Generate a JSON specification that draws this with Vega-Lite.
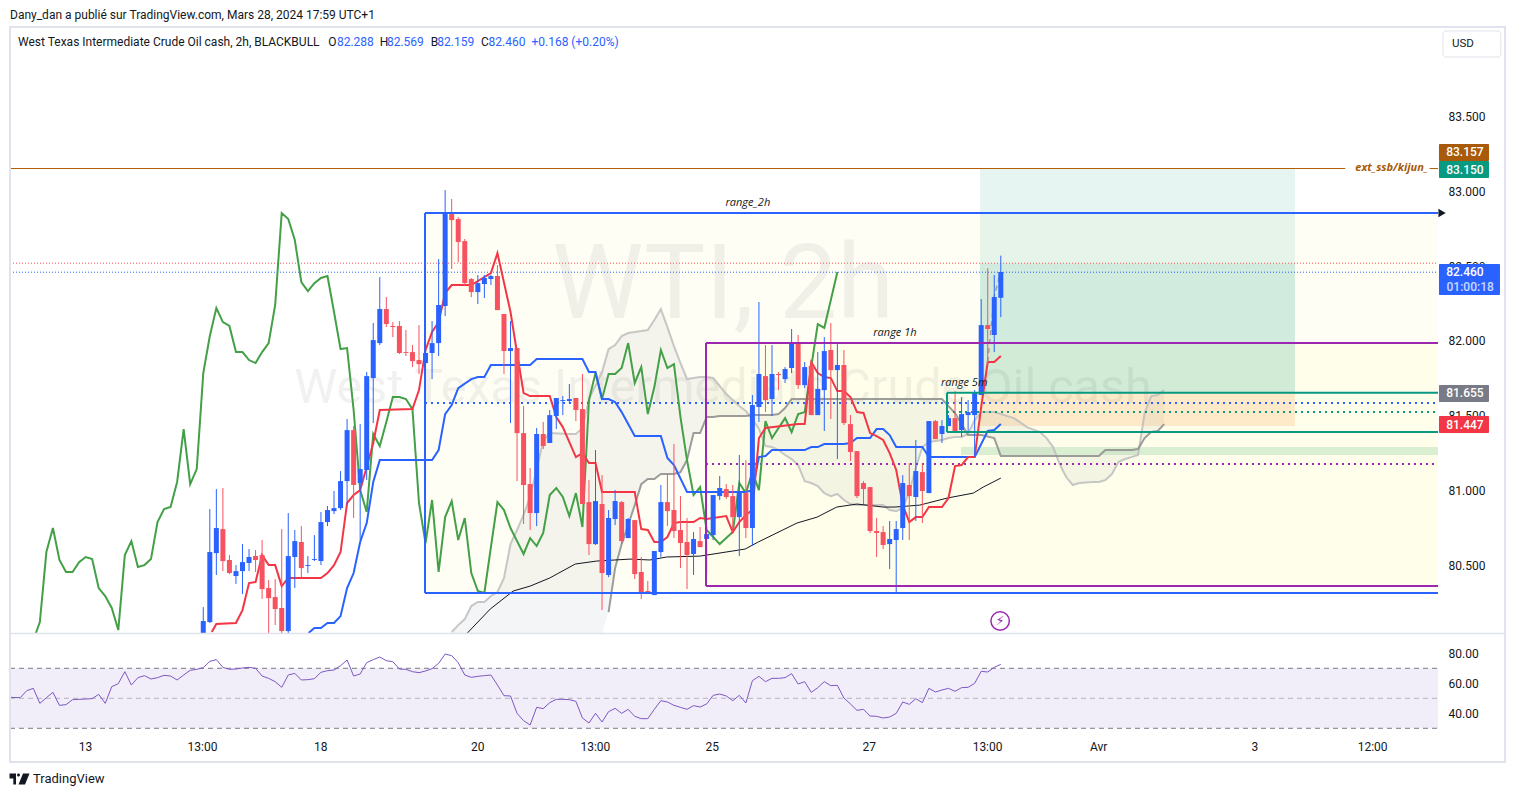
{"$schema":"https://vega.github.io/schema/vega-lite/v6.json","width":1515,"height":797,"padding":0,"autosize":{"type":"none"},"background":"#ffffff","config":{"view":{"stroke":null},"text":{"font":"Roboto"},"axis":{"labelFont":"Roboto"}},
"datasets":{
"candles":[
{"i":29,"o":80.006,"h":80.226,"l":80.0,"c":80.133},{"i":30,"o":80.126,"h":80.88,"l":80.12,"c":80.593},{"i":31,"o":80.586,"h":81.013,"l":80.44,"c":80.753},{"i":32,"o":80.746,"h":81.02,"l":80.466,"c":80.533},{"i":33,"o":80.54,"h":80.573,"l":80.446,"c":80.453},{"i":34,"o":80.433,"h":80.506,"l":80.38,"c":80.466},{"i":35,"o":80.466,"h":80.646,"l":80.313,"c":80.526},{"i":36,"o":80.52,"h":80.613,"l":80.466,"c":80.56},{"i":37,"o":80.566,"h":80.606,"l":80.46,"c":80.54},{"i":38,"o":80.573,"h":80.673,"l":80.28,"c":80.346},{"i":39,"o":80.353,"h":80.406,"l":80.006,"c":80.286},{"i":40,"o":80.293,"h":80.413,"l":80.106,"c":80.213},{"i":41,"o":80.22,"h":80.746,"l":80.0,"c":80.066},{"i":42,"o":80.066,"h":80.853,"l":80.0,"c":80.566},{"i":43,"o":80.56,"h":80.74,"l":80.353,"c":80.666},{"i":44,"o":80.66,"h":80.766,"l":80.426,"c":80.486},{"i":45,"o":80.5,"h":80.566,"l":80.453,"c":80.506},{"i":46,"o":80.54,"h":80.706,"l":80.533,"c":80.546},{"i":47,"o":80.533,"h":80.86,"l":80.506,"c":80.793},{"i":48,"o":80.793,"h":80.9,"l":80.766,"c":80.873},{"i":49,"o":80.866,"h":81.0,"l":80.846,"c":80.886},{"i":50,"o":80.886,"h":81.133,"l":80.873,"c":81.066},{"i":51,"o":81.066,"h":81.48,"l":80.906,"c":81.406},{"i":52,"o":81.406,"h":81.433,"l":80.82,"c":81.04},{"i":53,"o":81.053,"h":81.446,"l":80.673,"c":81.146},{"i":54,"o":81.14,"h":81.793,"l":81.073,"c":81.766},{"i":55,"o":81.753,"h":82.12,"l":81.453,"c":82.006},{"i":56,"o":81.986,"h":82.426,"l":81.973,"c":82.213},{"i":57,"o":82.213,"h":82.293,"l":82.093,"c":82.113},{"i":58,"o":82.1,"h":82.126,"l":82.026,"c":82.093},{"i":59,"o":82.1,"h":82.133,"l":81.913,"c":81.92},{"i":60,"o":81.926,"h":82.073,"l":81.9,"c":81.92},{"i":61,"o":81.926,"h":81.973,"l":81.826,"c":81.866},{"i":62,"o":81.873,"h":82.106,"l":81.78,"c":81.846},{"i":63,"o":81.853,"h":81.94,"l":81.606,"c":81.92},{"i":64,"o":81.92,"h":82.133,"l":81.746,"c":81.986},{"i":65,"o":81.986,"h":82.546,"l":81.9,"c":82.24},{"i":66,"o":82.233,"h":83.006,"l":82.166,"c":82.86},{"i":67,"o":82.846,"h":82.946,"l":82.48,"c":82.806},{"i":68,"o":82.813,"h":82.826,"l":82.526,"c":82.66},{"i":69,"o":82.666,"h":82.68,"l":82.366,"c":82.386},{"i":70,"o":82.413,"h":82.42,"l":82.293,"c":82.326},{"i":71,"o":82.326,"h":82.44,"l":82.246,"c":82.386},{"i":72,"o":82.38,"h":82.44,"l":82.286,"c":82.42},{"i":73,"o":82.413,"h":82.44,"l":82.373,"c":82.433},{"i":74,"o":82.433,"h":82.506,"l":82.206,"c":82.206},{"i":75,"o":82.18,"h":82.18,"l":81.78,"c":81.933},{"i":76,"o":81.933,"h":82.133,"l":81.453,"c":81.953},{"i":77,"o":81.953,"h":81.953,"l":81.066,"c":81.386},{"i":78,"o":81.386,"h":81.566,"l":80.78,"c":81.04},{"i":79,"o":81.046,"h":81.153,"l":80.74,"c":80.853},{"i":80,"o":80.853,"h":81.42,"l":80.766,"c":81.38},{"i":81,"o":81.38,"h":81.46,"l":81.28,"c":81.3},{"i":82,"o":81.32,"h":81.54,"l":81.32,"c":81.506},{"i":83,"o":81.5,"h":81.62,"l":81.413,"c":81.62},{"i":84,"o":81.6,"h":81.633,"l":81.506,"c":81.606},{"i":85,"o":81.6,"h":81.713,"l":81.586,"c":81.613},{"i":86,"o":81.62,"h":81.62,"l":81.466,"c":81.54},{"i":87,"o":81.546,"h":81.78,"l":80.913,"c":80.913},{"i":88,"o":80.926,"h":81.073,"l":80.573,"c":80.646},{"i":89,"o":80.646,"h":81.273,"l":80.64,"c":80.933},{"i":90,"o":80.913,"h":81.106,"l":80.206,"c":80.453},{"i":91,"o":80.44,"h":80.873,"l":80.426,"c":80.82},{"i":92,"o":80.813,"h":81.006,"l":80.773,"c":80.933},{"i":93,"o":80.926,"h":80.933,"l":80.646,"c":80.666},{"i":94,"o":80.686,"h":80.82,"l":80.686,"c":80.813},{"i":95,"o":80.806,"h":80.806,"l":80.413,"c":80.446},{"i":96,"o":80.46,"h":80.56,"l":80.28,"c":80.326},{"i":97,"o":80.333,"h":80.4,"l":80.313,"c":80.313},{"i":98,"o":80.306,"h":80.6,"l":80.306,"c":80.6},{"i":99,"o":80.593,"h":81.04,"l":80.56,"c":80.926},{"i":100,"o":80.926,"h":81.113,"l":80.766,"c":80.866},{"i":101,"o":80.873,"h":81.313,"l":80.686,"c":80.733},{"i":102,"o":80.74,"h":80.966,"l":80.486,"c":80.653},{"i":103,"o":80.66,"h":80.82,"l":80.346,"c":80.573},{"i":104,"o":80.58,"h":80.726,"l":80.44,"c":80.68},{"i":105,"o":80.666,"h":80.76,"l":80.626,"c":80.626},{"i":106,"o":80.68,"h":80.74,"l":80.44,"c":80.713},{"i":107,"o":80.706,"h":80.973,"l":80.673,"c":80.973},{"i":108,"o":80.966,"h":81.1,"l":80.94,"c":81.02},{"i":109,"o":81.013,"h":81.046,"l":80.946,"c":80.96},{"i":110,"o":80.966,"h":81.04,"l":80.726,"c":80.826},{"i":111,"o":80.826,"h":81.24,"l":80.566,"c":80.993},{"i":112,"o":80.986,"h":81.206,"l":80.686,"c":80.753},{"i":113,"o":80.753,"h":81.64,"l":80.633,"c":81.573},{"i":114,"o":81.56,"h":82.26,"l":81.46,"c":81.78},{"i":115,"o":81.766,"h":81.973,"l":81.526,"c":81.606},{"i":116,"o":81.613,"h":81.973,"l":81.5,"c":81.78},{"i":117,"o":81.78,"h":81.793,"l":81.673,"c":81.773},{"i":118,"o":81.746,"h":81.826,"l":81.72,"c":81.813},{"i":119,"o":81.82,"h":82.08,"l":81.786,"c":81.986},{"i":120,"o":81.986,"h":82.04,"l":81.68,"c":81.706},{"i":121,"o":81.706,"h":81.86,"l":81.686,"c":81.826},{"i":122,"o":81.833,"h":81.86,"l":81.506,"c":81.506},{"i":123,"o":81.506,"h":81.926,"l":81.506,"c":81.68},{"i":124,"o":81.673,"h":82.026,"l":81.4,"c":81.933},{"i":125,"o":81.94,"h":82.12,"l":81.48,"c":81.806},{"i":126,"o":81.806,"h":81.986,"l":81.213,"c":81.84},{"i":127,"o":81.84,"h":81.94,"l":81.44,"c":81.453},{"i":128,"o":81.446,"h":81.506,"l":81.2,"c":81.26},{"i":129,"o":81.266,"h":81.266,"l":80.953,"c":80.966},{"i":130,"o":81.053,"h":81.066,"l":80.913,"c":81.013},{"i":131,"o":81.026,"h":81.026,"l":80.72,"c":80.733},{"i":132,"o":80.733,"h":80.82,"l":80.56,"c":80.72},{"i":133,"o":80.726,"h":80.766,"l":80.613,"c":80.64},{"i":134,"o":80.646,"h":80.8,"l":80.48,"c":80.68},{"i":135,"o":80.673,"h":80.8,"l":80.326,"c":80.746},{"i":136,"o":80.753,"h":81.106,"l":80.673,"c":81.053},{"i":137,"o":81.04,"h":81.186,"l":80.673,"c":80.966},{"i":138,"o":80.96,"h":81.34,"l":80.8,"c":81.133},{"i":139,"o":81.126,"h":81.186,"l":80.786,"c":81.0},{"i":140,"o":80.986,"h":81.466,"l":80.986,"c":81.466},{"i":141,"o":81.466,"h":81.473,"l":81.346,"c":81.346},{"i":142,"o":81.38,"h":81.473,"l":81.32,"c":81.433},{"i":143,"o":81.433,"h":81.506,"l":81.433,"c":81.486},{"i":144,"o":81.486,"h":81.666,"l":81.393,"c":81.393},{"i":145,"o":81.406,"h":81.626,"l":81.36,"c":81.513},{"i":146,"o":81.506,"h":81.606,"l":81.393,"c":81.526},{"i":147,"o":81.506,"h":81.673,"l":81.226,"c":81.653},{"i":148,"o":81.64,"h":82.28,"l":81.64,"c":82.106},{"i":149,"o":82.106,"h":82.486,"l":81.84,"c":82.08},{"i":150,"o":82.04,"h":82.44,"l":81.926,"c":82.293},{"i":151,"o":82.288,"h":82.569,"l":82.159,"c":82.46}],
"green":[{"i":3.4,"p":80.053},{"i":4,"p":80.126},{"i":5,"p":80.593},{"i":6,"p":80.753},{"i":7,"p":80.54},{"i":8,"p":80.46},{"i":9,"p":80.46},{"i":10,"p":80.526},{"i":11,"p":80.56},{"i":12,"p":80.546},{"i":13,"p":80.353},{"i":14,"p":80.3},{"i":15,"p":80.22},{"i":16,"p":80.073},{"i":17,"p":80.573},{"i":18,"p":80.666},{"i":19,"p":80.493},{"i":20,"p":80.506},{"i":21,"p":80.546},{"i":22,"p":80.793},{"i":23,"p":80.88},{"i":24,"p":80.893},{"i":25,"p":81.06},{"i":26,"p":81.413},{"i":27,"p":81.046},{"i":28,"p":81.146},{"i":29,"p":81.786},{"i":30,"p":82.033},{"i":31,"p":82.22},{"i":32,"p":82.126},{"i":33,"p":82.1},{"i":34,"p":81.926},{"i":35,"p":81.926},{"i":36,"p":81.873},{"i":37,"p":81.853},{"i":38,"p":81.926},{"i":39,"p":81.986},{"i":40,"p":82.24},{"i":41,"p":82.853},{"i":42,"p":82.813},{"i":43,"p":82.673},{"i":44,"p":82.393},{"i":45,"p":82.333},{"i":46,"p":82.386},{"i":47,"p":82.42},{"i":48,"p":82.433},{"i":49,"p":82.193},{"i":50,"p":81.946},{"i":51,"p":81.953},{"i":52,"p":81.54},{"i":53,"p":81.006},{"i":54,"p":80.86},{"i":55,"p":81.38},{"i":56,"p":81.3},{"i":57,"p":81.46},{"i":58,"p":81.626},{"i":59,"p":81.626},{"i":60,"p":81.613},{"i":61,"p":81.546},{"i":62,"p":80.92},{"i":63,"p":80.653},{"i":64,"p":80.94},{"i":65,"p":80.46},{"i":66,"p":80.826},{"i":67,"p":80.933},{"i":68,"p":80.673},{"i":69,"p":80.82},{"i":70,"p":80.453},{"i":71,"p":80.333},{"i":72,"p":80.32},{"i":73,"p":80.626},{"i":74,"p":80.926},{"i":75,"p":80.873},{"i":76,"p":80.753},{"i":77,"p":80.666},{"i":78,"p":80.58},{"i":79,"p":80.686},{"i":80,"p":80.633},{"i":81,"p":80.72},{"i":82,"p":80.973},{"i":83,"p":81.02},{"i":84,"p":80.96},{"i":85,"p":80.833},{"i":86,"p":80.986},{"i":87,"p":80.76},{"i":88,"p":81.606},{"i":89,"p":81.786},{"i":90,"p":81.613},{"i":91,"p":81.78},{"i":92,"p":81.78},{"i":93,"p":81.82},{"i":94,"p":81.986},{"i":95,"p":81.72},{"i":96,"p":81.826},{"i":97,"p":81.513},{"i":98,"p":81.693},{"i":99,"p":81.94},{"i":100,"p":81.82},{"i":101,"p":81.846},{"i":102,"p":81.493},{"i":103,"p":81.206},{"i":104,"p":80.973},{"i":105,"p":81.026},{"i":106,"p":80.74},{"i":107,"p":80.693},{"i":108,"p":80.646},{"i":109,"p":80.686},{"i":110,"p":80.726},{"i":111,"p":81.053},{"i":112,"p":80.986},{"i":113,"p":81.126},{"i":114,"p":81.006},{"i":115,"p":81.466},{"i":116,"p":81.353},{"i":117,"p":81.42},{"i":118,"p":81.486},{"i":119,"p":81.393},{"i":120,"p":81.513},{"i":121,"p":81.526},{"i":122,"p":81.826},{"i":123,"p":82.113},{"i":124,"p":82.087},{"i":125,"p":82.273},{"i":126,"p":82.46}],
"red":[{"i":30.3,"p":80.06},{"i":31,"p":80.113},{"i":34,"p":80.12},{"i":35,"p":80.206},{"i":36,"p":80.386},{"i":37,"p":80.393},{"i":38,"p":80.573},{"i":39,"p":80.506},{"i":40,"p":80.506},{"i":41,"p":80.366},{"i":42,"p":80.42},{"i":47,"p":80.42},{"i":48,"p":80.453},{"i":49,"p":80.506},{"i":50,"p":80.593},{"i":51,"p":80.92},{"i":52,"p":80.973},{"i":53,"p":81.006},{"i":54,"p":81.16},{"i":55,"p":81.32},{"i":56,"p":81.54},{"i":61,"p":81.546},{"i":62,"p":81.673},{"i":63,"p":81.94},{"i":64,"p":82.06},{"i":65,"p":82.126},{"i":66,"p":82.32},{"i":67,"p":82.373},{"i":70,"p":82.373},{"i":73,"p":82.453},{"i":74,"p":82.586},{"i":76,"p":82.193},{"i":77,"p":81.92},{"i":78,"p":81.653},{"i":79,"p":81.633},{"i":82,"p":81.633},{"i":83,"p":81.493},{"i":84,"p":81.426},{"i":85,"p":81.326},{"i":86,"p":81.226},{"i":87,"p":81.253},{"i":88,"p":81.186},{"i":89,"p":81.186},{"i":90,"p":80.993},{"i":95,"p":80.993},{"i":96,"p":80.746},{"i":97,"p":80.74},{"i":98,"p":80.66},{"i":99,"p":80.66},{"i":100,"p":80.693},{"i":101,"p":80.786},{"i":102,"p":80.793},{"i":104,"p":80.793},{"i":105,"p":80.82},{"i":106,"p":80.813},{"i":109,"p":80.833},{"i":110,"p":80.726},{"i":111,"p":80.793},{"i":112,"p":80.84},{"i":113,"p":80.873},{"i":114,"p":81.353},{"i":115,"p":81.42},{"i":120,"p":81.446},{"i":121,"p":81.446},{"i":122,"p":81.86},{"i":123,"p":81.786},{"i":124,"p":81.76},{"i":125,"p":81.753},{"i":126,"p":81.666},{"i":127,"p":81.666},{"i":128,"p":81.626},{"i":129,"p":81.526},{"i":130,"p":81.52},{"i":131,"p":81.386},{"i":132,"p":81.366},{"i":133,"p":81.34},{"i":134,"p":81.253},{"i":135,"p":81.14},{"i":136,"p":80.906},{"i":137,"p":80.793},{"i":138,"p":80.826},{"i":139,"p":80.826},{"i":140,"p":80.893},{"i":142,"p":80.893},{"i":143,"p":80.953},{"i":144,"p":81.166},{"i":145,"p":81.173},{"i":146,"p":81.226},{"i":147,"p":81.226},{"i":148,"p":81.56},{"i":149,"p":81.86},{"i":150,"p":81.86},{"i":151,"p":81.9}],
"blue":[{"i":45.1,"p":80.053},{"i":46,"p":80.087},{"i":47,"p":80.087},{"i":48,"p":80.12},{"i":49,"p":80.12},{"i":50,"p":80.166},{"i":51,"p":80.353},{"i":52,"p":80.453},{"i":53,"p":80.66},{"i":54,"p":80.786},{"i":55,"p":81.06},{"i":56,"p":81.206},{"i":64,"p":81.206},{"i":65,"p":81.273},{"i":66,"p":81.513},{"i":67,"p":81.573},{"i":68,"p":81.686},{"i":70,"p":81.746},{"i":71,"p":81.76},{"i":72,"p":81.76},{"i":73,"p":81.84},{"i":79,"p":81.84},{"i":80,"p":81.88},{"i":87,"p":81.88},{"i":88,"p":81.793},{"i":89,"p":81.793},{"i":90,"p":81.613},{"i":91,"p":81.613},{"i":92,"p":81.593},{"i":93,"p":81.526},{"i":95,"p":81.366},{"i":99,"p":81.366},{"i":100,"p":81.22},{"i":101,"p":81.173},{"i":103,"p":80.993},{"i":112,"p":80.993},{"i":113,"p":81.006},{"i":114,"p":81.226},{"i":115,"p":81.233},{"i":116,"p":81.273},{"i":121,"p":81.273},{"i":122,"p":81.293},{"i":123,"p":81.293},{"i":124,"p":81.313},{"i":127,"p":81.313},{"i":128,"p":81.32},{"i":129,"p":81.353},{"i":131,"p":81.353},{"i":132,"p":81.413},{"i":133,"p":81.413},{"i":134,"p":81.373},{"i":135,"p":81.293},{"i":139,"p":81.293},{"i":140,"p":81.226},{"i":147,"p":81.226},{"i":149,"p":81.4},{"i":150,"p":81.406},{"i":151,"p":81.446}],
"black":[{"i":69.4,"p":80.053},{"i":72.9,"p":80.213},{"i":76.4,"p":80.333},{"i":79,"p":80.366},{"i":82,"p":80.42},{"i":85.9,"p":80.513},{"i":89.2,"p":80.533},{"i":94.3,"p":80.546},{"i":97.3,"p":80.54},{"i":99.9,"p":80.56},{"i":105,"p":80.566},{"i":111.9,"p":80.613},{"i":113.9,"p":80.66},{"i":119.8,"p":80.786},{"i":122.9,"p":80.826},{"i":125.9,"p":80.893},{"i":129,"p":80.913},{"i":133,"p":80.893},{"i":134.8,"p":80.893},{"i":138.6,"p":80.906},{"i":142.8,"p":80.953},{"i":146.8,"p":80.986},{"i":148.3,"p":81.026},{"i":151,"p":81.086}],
"cloud":[{"i":67,"a":80.06,"b":80},{"i":68,"a":80.106,"b":80},{"i":69,"a":80.146,"b":80},{"i":70,"a":80.233,"b":80},{"i":71,"a":80.26,"b":80},{"i":72,"a":80.26,"b":80},{"i":73,"a":80.3,"b":80},{"i":74,"a":80.326,"b":80},{"i":75,"a":80.42,"b":80},{"i":76,"a":80.646,"b":80},{"i":77,"a":80.74,"b":80},{"i":78,"a":80.84,"b":80},{"i":79,"a":80.96,"b":80},{"i":80,"a":81.146,"b":80},{"i":81,"a":81.333,"b":80},{"i":82,"a":81.386,"b":80},{"i":85,"a":81.38,"b":80},{"i":86,"a":81.38,"b":80},{"i":87,"a":81.42,"b":80},{"i":88,"a":81.613,"b":80},{"i":90,"a":81.793,"b":80},{"i":91,"a":81.946,"b":80.193},{"i":92,"a":81.973,"b":80.486},{"i":93,"a":82.033,"b":80.646},{"i":94,"a":82.053,"b":80.773},{"i":95,"a":82.06,"b":80.906},{"i":96,"a":82.066,"b":81.046},{"i":97,"a":82.073,"b":81.08},{"i":98,"a":82.14,"b":81.08},{"i":99,"a":82.213,"b":81.113},{"i":100,"a":82.093,"b":81.113},{"i":101,"a":81.966,"b":81.113},{"i":102,"a":81.853,"b":81.126},{"i":103,"a":81.746,"b":81.206},{"i":104,"a":81.753,"b":81.386},{"i":105,"a":81.76,"b":81.386},{"i":106,"a":81.76,"b":81.493},{"i":107,"a":81.753,"b":81.493},{"i":108,"a":81.7,"b":81.5},{"i":109,"a":81.646,"b":81.5},{"i":110,"a":81.606,"b":81.5},{"i":111,"a":81.566,"b":81.5},{"i":112,"a":81.533,"b":81.5},{"i":113,"a":81.48,"b":81.506},{"i":114,"a":81.413,"b":81.506},{"i":115,"a":81.3,"b":81.506},{"i":116,"a":81.293,"b":81.506},{"i":117,"a":81.273,"b":81.513},{"i":118,"a":81.24,"b":81.553},{"i":119,"a":81.213,"b":81.613},{"i":120,"a":81.173,"b":81.613},{"i":121,"a":81.066,"b":81.613},{"i":122,"a":81.053,"b":81.613},{"i":123,"a":81.033,"b":81.613},{"i":124,"a":80.986,"b":81.613},{"i":125,"a":80.966,"b":81.613},{"i":126,"a":80.98,"b":81.613},{"i":127,"a":80.94,"b":81.613},{"i":128,"a":80.913,"b":81.613},{"i":129,"a":80.906,"b":81.613},{"i":133,"a":80.906,"b":81.613},{"i":134,"a":80.873,"b":81.613},{"i":135,"a":80.866,"b":81.613},{"i":136,"a":80.886,"b":81.613},{"i":137,"a":80.993,"b":81.613},{"i":138,"a":81.153,"b":81.613},{"i":139,"a":81.293,"b":81.613},{"i":140,"a":81.326,"b":81.613},{"i":141,"a":81.333,"b":81.613},{"i":142,"a":81.34,"b":81.613},{"i":143,"a":81.353,"b":81.566},{"i":144,"a":81.36,"b":81.52},{"i":145,"a":81.36,"b":81.446},{"i":146,"a":81.38,"b":81.373},{"i":147,"a":81.473,"b":81.373},{"i":148,"a":81.526,"b":81.373},{"i":150,"a":81.526,"b":81.353},{"i":151,"a":81.513,"b":81.233},{"i":153,"a":81.486,"b":81.233},{"i":155,"a":81.426,"b":81.233},{"i":157,"a":81.393,"b":81.233},{"i":158,"a":81.353,"b":81.233},{"i":159,"a":81.293,"b":81.233},{"i":160,"a":81.18,"b":81.233},{"i":161,"a":81.093,"b":81.233},{"i":162,"a":81.04,"b":81.233},{"i":163,"a":81.053,"b":81.233},{"i":165,"a":81.06,"b":81.233},{"i":166,"a":81.06,"b":81.233},{"i":167,"a":81.073,"b":81.273},{"i":168,"a":81.113,"b":81.273},{"i":169,"a":81.193,"b":81.273},{"i":170,"a":81.213,"b":81.273},{"i":171,"a":81.226,"b":81.273},{"i":172,"a":81.24,"b":81.28},{"i":173,"a":81.52,"b":81.353},{"i":174,"a":81.633,"b":81.393},{"i":175,"a":81.64,"b":81.4},{"i":176,"a":81.673,"b":81.446}],
"rsi":[{"i":-0.5,"r":50.64},{"i":1,"r":50.42},{"i":2,"r":55.09},{"i":3,"r":56.64},{"i":4,"r":46.64},{"i":5,"r":50.4},{"i":6,"r":53.98},{"i":7,"r":45.31},{"i":8,"r":45.75},{"i":9,"r":49.09},{"i":10,"r":49.3},{"i":11,"r":49.5},{"i":12,"r":49.75},{"i":13,"r":52.64},{"i":14,"r":46.64},{"i":15,"r":57.75},{"i":16,"r":59.75},{"i":17,"r":67.75},{"i":18,"r":58.86},{"i":19,"r":63.75},{"i":20,"r":65.09},{"i":21,"r":62.86},{"i":22,"r":63.75},{"i":23,"r":65.3},{"i":24,"r":64.86},{"i":25,"r":62.2},{"i":26,"r":65.53},{"i":27,"r":68.64},{"i":28,"r":69.3},{"i":29,"r":70.42},{"i":30,"r":74.64},{"i":31,"r":75.75},{"i":32,"r":70.64},{"i":33,"r":69.3},{"i":34,"r":69.53},{"i":35,"r":70.2},{"i":36,"r":70.64},{"i":37,"r":69.97},{"i":38,"r":64.86},{"i":39,"r":63.3},{"i":40,"r":61.09},{"i":41,"r":57.31},{"i":42,"r":65.53},{"i":43,"r":66.64},{"i":44,"r":62.2},{"i":45,"r":62.42},{"i":46,"r":63.09},{"i":47,"r":67.31},{"i":48,"r":68.42},{"i":49,"r":68.86},{"i":50,"r":71.75},{"i":51,"r":75.53},{"i":52,"r":64.86},{"i":53,"r":66.2},{"i":54,"r":73.75},{"i":55,"r":75.75},{"i":56,"r":77.53},{"i":57,"r":75.09},{"i":58,"r":74.42},{"i":59,"r":69.53},{"i":60,"r":69.3},{"i":61,"r":67.75},{"i":62,"r":67.09},{"i":63,"r":68.2},{"i":64,"r":69.75},{"i":65,"r":73.31},{"i":66,"r":79.53},{"i":67,"r":78.42},{"i":68,"r":73.75},{"i":69,"r":65.53},{"i":70,"r":63.97},{"i":71,"r":64.64},{"i":72,"r":65.09},{"i":73,"r":65.53},{"i":74,"r":58.86},{"i":75,"r":51.75},{"i":76,"r":51.53},{"i":77,"r":39.97},{"i":78,"r":35.09},{"i":79,"r":32.2},{"i":80,"r":44.0},{"i":81,"r":43.09},{"i":82,"r":47.09},{"i":83,"r":49.31},{"i":84,"r":49.31},{"i":85,"r":49.09},{"i":86,"r":47.97},{"i":87,"r":36.86},{"i":88,"r":33.53},{"i":89,"r":39.97},{"i":90,"r":34.2},{"i":91,"r":41.09},{"i":92,"r":43.31},{"i":93,"r":39.97},{"i":94,"r":42.64},{"i":95,"r":37.97},{"i":96,"r":36.42},{"i":97,"r":36.42},{"i":98,"r":42.64},{"i":99,"r":48.42},{"i":100,"r":47.53},{"i":101,"r":45.31},{"i":102,"r":43.97},{"i":103,"r":42.64},{"i":104,"r":45.09},{"i":105,"r":44.2},{"i":106,"r":46.2},{"i":107,"r":51.97},{"i":108,"r":52.86},{"i":109,"r":51.53},{"i":110,"r":48.42},{"i":111,"r":51.97},{"i":112,"r":46.86},{"i":113,"r":61.75},{"i":114,"r":64.64},{"i":115,"r":61.09},{"i":116,"r":63.31},{"i":117,"r":63.31},{"i":118,"r":63.75},{"i":119,"r":66.42},{"i":120,"r":59.53},{"i":121,"r":61.09},{"i":122,"r":53.97},{"i":123,"r":57.09},{"i":124,"r":61.09},{"i":125,"r":58.42},{"i":126,"r":58.64},{"i":127,"r":50.2},{"i":128,"r":46.2},{"i":129,"r":41.97},{"i":130,"r":42.64},{"i":131,"r":38.2},{"i":132,"r":37.97},{"i":133,"r":36.86},{"i":134,"r":37.53},{"i":135,"r":39.97},{"i":136,"r":47.53},{"i":137,"r":45.97},{"i":138,"r":49.75},{"i":139,"r":47.09},{"i":140,"r":56.64},{"i":141,"r":54.2},{"i":142,"r":55.53},{"i":143,"r":56.64},{"i":144,"r":54.64},{"i":145,"r":57.09},{"i":146,"r":57.31},{"i":147,"r":59.97},{"i":148,"r":67.97},{"i":149,"r":67.53},{"i":150,"r":70.64},{"i":151,"r":72.64}]
},
"encoding":{"x":{"field":"i","type":"quantitative","scale":{"domain":[-0.566,217.88],"range":[10,1438],"nice":false,"zero":false,"padding":0},"axis":{"values":[10.9,28.8,46.9,70.9,88.9,106.8,130.8,148.9,165.9,189.8,207.8],"labelExpr":"datum.value==10.9?'13':datum.value==28.8?'13:00':datum.value==46.9?'18':datum.value==70.9?'20':datum.value==88.9?'13:00':datum.value==106.8?'25':datum.value==130.8?'27':datum.value==148.9?'13:00':datum.value==165.9?'Avr':datum.value==189.8?'3':'12:00'","orient":"bottom","offset":-56,"title":null,"ticks":false,"domain":false,"grid":false,"labelPadding":0,"labelFontSize":12,"labelColor":"#131722","labelOverlap":false,"labelFlush":false}}},
"layer":[
{"encoding":{"y":{"field":"p","type":"quantitative","scale":{"domain":[80.0533,84.0867],"range":[633,28],"clamp":true,"nice":false,"zero":false},"axis":{"orient":"right","offset":-67,"values":[80.5,81,81.5,82,82.5,83,83.5],"format":".3f","title":null,"ticks":false,"domain":false,"grid":false,"labelPadding":0,"labelFontSize":12,"labelColor":"#131722","labelAlign":"left"}}},
"layer":[
{"data":{"values":[{"z":"range_2h","i":62.92,"i2":217.88,"p":82.853,"p2":80.32},{"z":"range_1h","i":105.9,"i2":217.88,"p":81.987,"p2":80.367},{"z":"band","i":144.9,"i2":217.88,"p":81.293,"p2":81.24},{"z":"tp_light","i":147.82,"i2":196,"p":83.15,"p2":82.517},{"z":"tp_dark","i":147.82,"i2":196,"p":82.517,"p2":81.655},{"z":"sl","i":147.82,"i2":196,"p":81.655,"p2":81.433}]},"mark":{"type":"rect"},"encoding":{"x2":{"field":"i2"},"y2":{"field":"p2"},"color":{"field":"z","type":"nominal","legend":null,"scale":{"domain":["range_2h","range_1h","band","tp_light","tp_dark","sl"],"range":["rgba(255,253,225,0.35)","rgba(255,253,225,0.5)","rgba(8,153,60,0.15)","rgba(8,153,129,0.1)","rgba(8,153,129,0.19)","rgba(245,124,0,0.15)"]}}}},
{"data":{"values":[{"i":108.5,"p":82.36,"t":"WTI, 2h"}]},"mark":{"type":"text","fontSize":103,"font":"Roboto","color":"#131722","opacity":0.055,"align":"center","baseline":"middle"},"encoding":{"text":{"field":"t"}}},
{"data":{"values":[{"i":108.5,"p":81.686,"t":"West Texas Intermediate Crude Oil cash"}]},"mark":{"type":"text","fontSize":48.5,"font":"Roboto","color":"#131722","opacity":0.055,"align":"center","baseline":"middle"},"encoding":{"text":{"field":"t"}}},
{"data":{"name":"cloud"},"mark":{"type":"area","color":"#787b86","opacity":0.08,"orient":"vertical"},"encoding":{"y":{"field":"a","type":"quantitative","scale":{"domain":[80.0533,84.0867],"range":[633,28],"clamp":true,"nice":false,"zero":false}},"y2":{"field":"b"}}},
{"data":{"name":"cloud"},"mark":{"type":"line","color":"#bdbdbd","strokeWidth":2,"opacity":0.85},"encoding":{"y":{"field":"a","type":"quantitative","scale":{"domain":[80.0533,84.0867],"range":[633,28],"clamp":true,"nice":false,"zero":false}}}},
{"data":{"name":"cloud"},"transform":[{"filter":"datum.b>80.05"}],"mark":{"type":"line","color":"#8c8c8c","strokeWidth":2,"opacity":0.85},"encoding":{"y":{"field":"b","type":"quantitative","scale":{"domain":[80.0533,84.0867],"range":[633,28],"clamp":true,"nice":false,"zero":false}}}},
{"data":{"values":[{"n":"ssb","i":-0.566,"i2":203.7,"p":83.15},{"n":"ssb","i":216.6,"i2":217.88,"p":83.15}]},"mark":{"type":"rule","color":"#b45f06","strokeWidth":1},"encoding":{"x2":{"field":"i2"}}},
{"data":{"values":[{"n":"ask","i":-0.566,"i2":217.88,"p":82.5187},{"n":"bid","i":-0.566,"i2":217.88,"p":82.4587}]},"mark":{"type":"rule","strokeWidth":1,"strokeDash":[1,2]},"encoding":{"x2":{"field":"i2"},"color":{"field":"n","type":"nominal","legend":null,"scale":{"domain":["ask","bid"],"range":["#f7525f","#2962ff"]}}}},
{"data":{"values":[{"n":"mid_2h","i":62.92,"i2":217.88,"p":81.587},{"n":"mid_1h","i":105.9,"i2":217.88,"p":81.18},{"n":"mid_5m","i":142.77,"i2":217.88,"p":81.527}]},"mark":{"type":"rule","strokeWidth":2,"strokeDash":[2,4]},"encoding":{"x2":{"field":"i2"},"color":{"field":"n","type":"nominal","legend":null,"scale":{"domain":["mid_2h","mid_1h","mid_5m"],"range":["#2962ff","#9c27b0","#089981"]}}}},
{"data":{"name":"green"},"mark":{"type":"line","color":"#43a047","strokeWidth":2}},
{"data":{"name":"black"},"mark":{"type":"line","color":"#131722","strokeWidth":1}},
{"data":{"name":"blue"},"mark":{"type":"line","color":"#2962ff","strokeWidth":2}},
{"data":{"name":"red"},"mark":{"type":"line","color":"#f23645","strokeWidth":2}},
{"data":{"values":[{"i":149,"p":81.86},{"i":150,"p":82.3},{"i":151,"p":82.46}]},"mark":{"type":"line","color":"#9e9e9e","strokeWidth":1.5,"strokeDash":[5,4]}},
{"data":{"name":"candles"},"mark":{"type":"rule","strokeWidth":1},"encoding":{"y":{"field":"h","type":"quantitative","scale":{"domain":[80.0533,84.0867],"range":[633,28],"clamp":true,"nice":false,"zero":false}},"y2":{"field":"l"},"color":{"condition":{"test":"datum.c>=datum.o","value":"#2962ff"},"value":"#f7525f"}}},
{"data":{"name":"candles"},"mark":{"type":"bar","size":5,"orient":"vertical"},"encoding":{"y":{"field":"o","type":"quantitative","scale":{"domain":[80.0533,84.0867],"range":[633,28],"clamp":true,"nice":false,"zero":false}},"y2":{"field":"c"},"color":{"condition":{"test":"datum.c>=datum.o","value":"#2962ff"},"value":"#f7525f"}}},
{"data":{"values":[{"n":"range_2h","i":62.92,"i2":217.88,"p":82.853},{"n":"range_2h","i":62.92,"i2":217.88,"p":80.32},{"n":"range_1h","i":105.9,"i2":217.88,"p":81.987},{"n":"range_1h","i":105.9,"i2":217.88,"p":80.367},{"n":"range_5m","i":142.77,"i2":217.88,"p":81.655},{"n":"range_5m","i":142.77,"i2":217.88,"p":81.393}]},"mark":{"type":"rule","strokeWidth":2},"encoding":{"x2":{"field":"i2"},"color":{"field":"n","type":"nominal","legend":null,"scale":{"domain":["range_2h","range_1h","range_5m"],"range":["#2962ff","#9c27b0","#089981"]}}}},
{"data":{"values":[{"n":"range_2h","i":62.92,"p":82.853,"p2":80.32},{"n":"range_1h","i":105.9,"p":81.987,"p2":80.367},{"n":"range_5m","i":142.77,"p":81.655,"p2":81.393}]},"mark":{"type":"rule","strokeWidth":2},"encoding":{"y2":{"field":"p2"},"color":{"field":"n","type":"nominal","legend":null,"scale":{"domain":["range_2h","range_1h","range_5m"],"range":["#2962ff","#9c27b0","#089981"]}}}},
{"data":{"values":[{"i":218.5,"p":82.853}]},"mark":{"type":"point","shape":"triangle-right","size":70,"filled":true,"color":"#131722","opacity":1}},
{"data":{"values":[{"i":112.3,"p":82.92,"t":"range_2h"},{"i":134.8,"p":82.053,"t":"range 1h"},{"i":145.4,"p":81.72,"t":"range 5m"}]},"mark":{"type":"text","fontSize":11,"font":"Open Sans","fontStyle":"italic","color":"#131722","align":"center","baseline":"middle"},"encoding":{"text":{"field":"t"}}},
{"data":{"values":[{"i":210.8,"p":83.153,"t":"ext_ssb/kijun_"}]},"mark":{"type":"text","fontSize":11,"font":"Open Sans","fontStyle":"italic","fontWeight":"bold","color":"#a85a08","align":"center","baseline":"middle"},"encoding":{"text":{"field":"t"}}},
{"data":{"values":[{"i":150.9,"p":80.133}]},"mark":{"type":"point","shape":"circle","size":340,"filled":false,"stroke":"#9c27b0","strokeWidth":1.5,"fill":"#ffffff","fillOpacity":1,"opacity":1}},
{"data":{"values":[{"i":150.9,"p":80.133,"t":"⚡"}]},"mark":{"type":"text","fontSize":13,"font":"DejaVu Sans","color":"#9c27b0","align":"center","baseline":"middle"},"encoding":{"text":{"field":"t"}}},
{"data":{"values":[{"n":"ssb","i":218.03,"i2":225.68,"p":83.313,"p2":83.2},{"n":"tp","i":218.03,"i2":225.68,"p":83.2,"p2":83.087},{"n":"last","i":218.03,"i2":227.36,"p":82.513,"p2":82.306},{"n":"top5m","i":218.03,"i2":225.68,"p":81.706,"p2":81.593},{"n":"sl","i":218.03,"i2":225.68,"p":81.5,"p2":81.386}]},"mark":{"type":"rect","cornerRadius":1},"encoding":{"x2":{"field":"i2"},"y2":{"field":"p2"},"color":{"field":"n","type":"nominal","legend":null,"scale":{"domain":["ssb","tp","last","top5m","sl"],"range":["#a85a08","#089981","#2962ff","#787b86","#f23645"]}}}},
{"data":{"values":[{"i":222,"p":83.257,"t":"83.157"},{"i":222,"p":83.143,"t":"83.150"},{"i":222,"p":82.46,"t":"82.460"},{"i":222,"p":81.65,"t":"81.655"},{"i":222,"p":81.443,"t":"81.447"}]},"mark":{"type":"text","fontSize":12,"fontWeight":500,"color":"#ffffff","align":"center","baseline":"middle"},"encoding":{"text":{"field":"t"}}},
{"data":{"values":[{"i":222.8,"p":82.36,"t":"01:00:18"}]},"mark":{"type":"text","fontSize":12,"fontWeight":500,"color":"#ffffff","opacity":0.75,"align":"center","baseline":"middle"},"encoding":{"text":{"field":"t"}}},
{"data":{"values":[{"i":0.66,"p":83.993,"t":"West Texas Intermediate Crude Oil cash, 2h, BLACKBULL","k":"ink"},{"i":48.1,"p":83.993,"t":"O","k":"ink"},{"i":49.45,"p":83.993,"t":"82.288","k":"val"},{"i":56,"p":83.993,"t":"H","k":"ink"},{"i":57.1,"p":83.993,"t":"82.569","k":"val"},{"i":63.8,"p":83.993,"t":"B","k":"ink"},{"i":64.8,"p":83.993,"t":"82.159","k":"val"},{"i":71.5,"p":83.993,"t":"C","k":"ink"},{"i":72.65,"p":83.993,"t":"82.460","k":"val"},{"i":79.2,"p":83.993,"t":"+0.168 (+0.20%)","k":"val"}]},"mark":{"type":"text","fontSize":12,"align":"left","baseline":"middle"},"encoding":{"text":{"field":"t"},"color":{"field":"k","type":"nominal","legend":null,"scale":{"domain":["ink","val"],"range":["#131722","#2962ff"]}}}}
],"resolve":{"scale":{"color":"independent"}}},
{"encoding":{"y":{"field":"r","type":"quantitative","scale":{"domain":[7.53,497.53],"range":[762,27],"nice":false,"zero":false},"axis":{"orient":"right","offset":-67,"values":[40,60,80],"format":".2f","title":null,"ticks":false,"domain":false,"grid":false,"labelPadding":0,"labelFontSize":12,"labelColor":"#131722","labelAlign":"left"}}},
"layer":[
{"data":{"values":[{"i":-0.566,"i2":217.88,"r":70,"r2":30}]},"mark":{"type":"rect","color":"#7e57c2","opacity":0.1},"encoding":{"x2":{"field":"i2"},"y2":{"field":"r2"}}},
{"data":{"values":[{"i":-0.566,"i2":217.88,"r":70},{"i":-0.566,"i2":217.88,"r":30}]},"mark":{"type":"rule","color":"#787b86","strokeWidth":1,"strokeDash":[5,4]},"encoding":{"x2":{"field":"i2"}}},
{"data":{"values":[{"i":-0.566,"i2":217.88,"r":50}]},"mark":{"type":"rule","color":"#787b86","strokeWidth":1,"strokeDash":[5,4],"opacity":0.5},"encoding":{"x2":{"field":"i2"}}},
{"data":{"name":"rsi"},"mark":{"type":"line","color":"#7e57c2","strokeWidth":1}},
{"data":{"values":[{"i":-0.566,"i2":228.13,"r":497.53,"r2":7.53}]},"mark":{"type":"rect","fillOpacity":0,"stroke":"#e0e3eb","strokeWidth":2},"encoding":{"x2":{"field":"i2"},"y2":{"field":"r2"}}},
{"data":{"values":[{"i":-0.566,"i2":228.13,"r":93.2}]},"mark":{"type":"rule","color":"#e0e3eb","strokeWidth":1.5},"encoding":{"x2":{"field":"i2"}}},
{"data":{"values":[{"i":218.64,"i2":227.5,"r":494.87,"r2":477.53}]},"mark":{"type":"rect","fill":"#ffffff","stroke":"#e0e3eb","strokeWidth":1,"cornerRadius":3},"encoding":{"x2":{"field":"i2"},"y2":{"field":"r2"}}},
{"data":{"values":[{"i":221.7,"r":486.2,"t":"USD"}]},"mark":{"type":"text","fontSize":11.5,"color":"#131722","align":"center","baseline":"middle"},"encoding":{"text":{"field":"t"}}},
{"data":{"values":[{"i":-0.566,"r":505.5,"t":"Dany_dan a publié sur TradingView.com, Mars 28, 2024 17:59 UTC+1"}]},"mark":{"type":"text","fontSize":12,"color":"#131722","align":"left","baseline":"middle"},"encoding":{"text":{"field":"t"}}},
{"data":{"values":[{"i":0.89,"r":-3.8}]},"mark":{"type":"point","shape":"M-1,-0.55H-0.35V0.55H-0.62V-0.05H-1ZM-0.1,-0.55A0.15,0.15,0,1,1,-0.1,-0.25A0.15,0.15,0,1,1,-0.1,-0.55ZM0.35,-0.55H1L0.55,0.55H-0.1Z","size":400,"filled":true,"color":"#131722","opacity":1}},
{"data":{"values":[{"i":2.95,"r":-3.8,"t":"TradingView"}]},"mark":{"type":"text","fontSize":13,"color":"#131722","align":"left","baseline":"middle"},"encoding":{"text":{"field":"t"}}}
]}
],
"resolve":{"scale":{"y":"independent"},"axis":{"y":"independent"}}}
